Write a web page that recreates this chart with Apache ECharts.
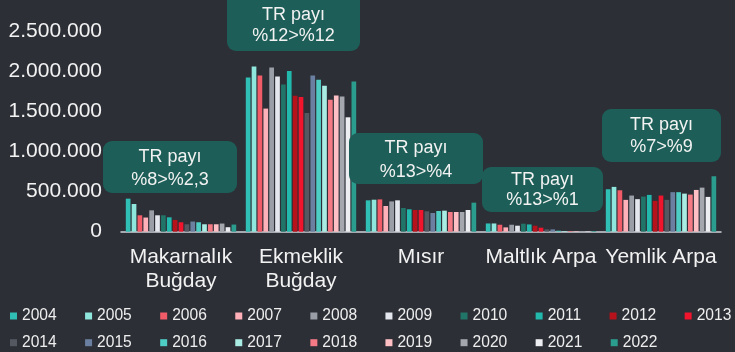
<!DOCTYPE html>
<html>
<head>
<meta charset="utf-8">
<script src="https://cdn.jsdelivr.net/npm/echarts@6/dist/echarts.min.js"></script>
<style>
  html, body { margin: 0; padding: 0; background: #2c2f36; }
  #chart { width: 735px; height: 352px; }
</style>
</head>
<body>
<div id="chart"></div>
<script>
// Crops (x axis categories)
const categories = ['Makarnalık\nBuğday', 'Ekmeklik\nBuğday', 'Mısır', 'Maltlık Arpa', 'Yemlik Arpa'];

// Years (one bar series per year)
const years = ['2004','2005','2006','2007','2008','2009','2010','2011','2012','2013',
               '2014','2015','2016','2017','2018','2019','2020','2021','2022'];

// Production per crop, 2004 → 2022
const makarnalik = [413000, 346000, 205000, 177000, 267000, 205000, 205000, 180000, 147000, 118000,
                    93000, 127000, 118000, 93000, 93000, 93000, 102000, 56000, 89000];
const ekmeklik   = [1928000, 2065000, 1953000, 1539000, 2052000, 1940000, 1840000, 2010000, 1700000, 1683000,
                    1484000, 1953000, 1900000, 1825000, 1650000, 1704000, 1690000, 1430000, 1878000];
const misir      = [392000, 400000, 404000, 321000, 379000, 392000, 296000, 280000, 271000, 271000,
                    255000, 234000, 259000, 263000, 246000, 246000, 246000, 271000, 363000];
const maltlik    = [103000, 103000, 87000, 54000, 87000, 75000, 100000, 91000, 75000, 50000,
                    29000, 29000, 12000, 8000, 8000, 6000, 8000, 5000, 8000];
const yemlik     = [531000, 560000, 518000, 398000, 452000, 407000, 439000, 460000, 386000, 452000,
                    398000, 494000, 494000, 476000, 464000, 522000, 551000, 435000, 693000];

// Y axis ticks
const yTicks = [0, 500000, 1000000, 1500000, 2000000, 2500000];

// Share annotations above each crop group
const notes = [
  ['TR payı', '%8>%2,3'],
  ['TR payı', '%12>%12'],
  ['TR payı', '%13>%4'],
  ['TR payı', '%13>%1'],
  ['TR payı', '%7>%9']
];

const colors = ['#30bfb4', '#8fe6dd', '#f25c69', '#ffb0b8', '#9a9ea6', '#e4e7ee', '#217468',
                '#22b8ac', '#b5121b', '#f0142c', '#545861', '#6b80a0', '#4ecdc4', '#a8ece4',
                '#f47a85', '#ffc0c5', '#a5a7ae', '#eceef2', '#2a9d8f'];

const byCrop = [makarnalik, ekmeklik, misir, maltlik, yemlik];

const series = years.map((y, i) => ({
  name: y,
  type: 'bar',
  barCategoryGap: '8%',
  barGap: '25%',
  itemStyle: { color: colors[i] },
  data: byCrop.map(arr => arr[i])
}));

const fmt = v => String(v).replace(/\B(?=(\d{3})+(?!\d))/g, '.');

const FONT = '"Liberation Sans", Arial, sans-serif';
const BOX = '#1d5f58';
const TXT = '#f2f2f2';

// annotation boxes: [left, top, width, height, line1 y, line2 y]
const boxGeom = [
  [103, 141, 134, 52, 157, 180],
  [227, -12, 133, 63, 15, 36],
  [349, 133, 134, 51, 148, 172.5],
  [482, 167, 121, 45, 180, 200.5],
  [602, 109, 119, 53, 125, 147.5]
];

const graphic = [];
notes.forEach((n, k) => {
  const g = boxGeom[k];
  graphic.push({
    type: 'rect', z: 100,
    shape: { x: g[0], y: g[1], width: g[2], height: g[3], r: 9 },
    style: { fill: BOX }
  });
  [n[0], n[1]].forEach((t, j) => {
    graphic.push({
      type: 'text', z: 101,
      x: g[0] + g[2] / 2, y: j === 0 ? g[4] : g[5],
      style: { text: t, fill: TXT, font: '18px ' + FONT, align: 'center', verticalAlign: 'middle' }
    });
  });
});

const legendBase = {
  icon: 'rect',
  itemWidth: 7,
  itemHeight: 7,
  itemGap: 28.4,
  left: 10,
  padding: 0,
  orient: 'horizontal',
  textStyle: { color: '#eeeeee', fontSize: 15.6, fontFamily: FONT, lineHeight: 18 }
};

const chart = echarts.init(document.getElementById('chart'), null, { renderer: 'canvas' });
chart.setOption({
  backgroundColor: '#2c2f36',
  animation: false,
  color: colors,
  grid: { left: 121, right: 14, top: 31.7, bottom: 120.3, containLabel: false },
  legend: [
    Object.assign({}, legendBase, { top: 307, data: years.slice(0, 10) }),
    Object.assign({}, legendBase, { top: 333.7, data: years.slice(10) })
  ],
  xAxis: {
    type: 'category',
    data: categories,
    axisTick: { show: false },
    axisLine: { lineStyle: { color: '#d0d3d9', width: 1.5 } },
    axisLabel: {
      interval: 0, color: '#f2f2f2', fontSize: 21, fontFamily: FONT,
      lineHeight: 24, margin: 14
    }
  },
  yAxis: {
    type: 'value',
    min: yTicks[0],
    max: yTicks[yTicks.length - 1],
    interval: yTicks[1] - yTicks[0],
    splitLine: { show: false },
    axisLine: { show: false },
    axisTick: { show: false },
    axisLabel: { color: '#f2f2f2', fontSize: 21, fontFamily: FONT, margin: 19, formatter: fmt }
  },
  series: series,
  graphic: graphic
});
</script>
</body>
</html>
